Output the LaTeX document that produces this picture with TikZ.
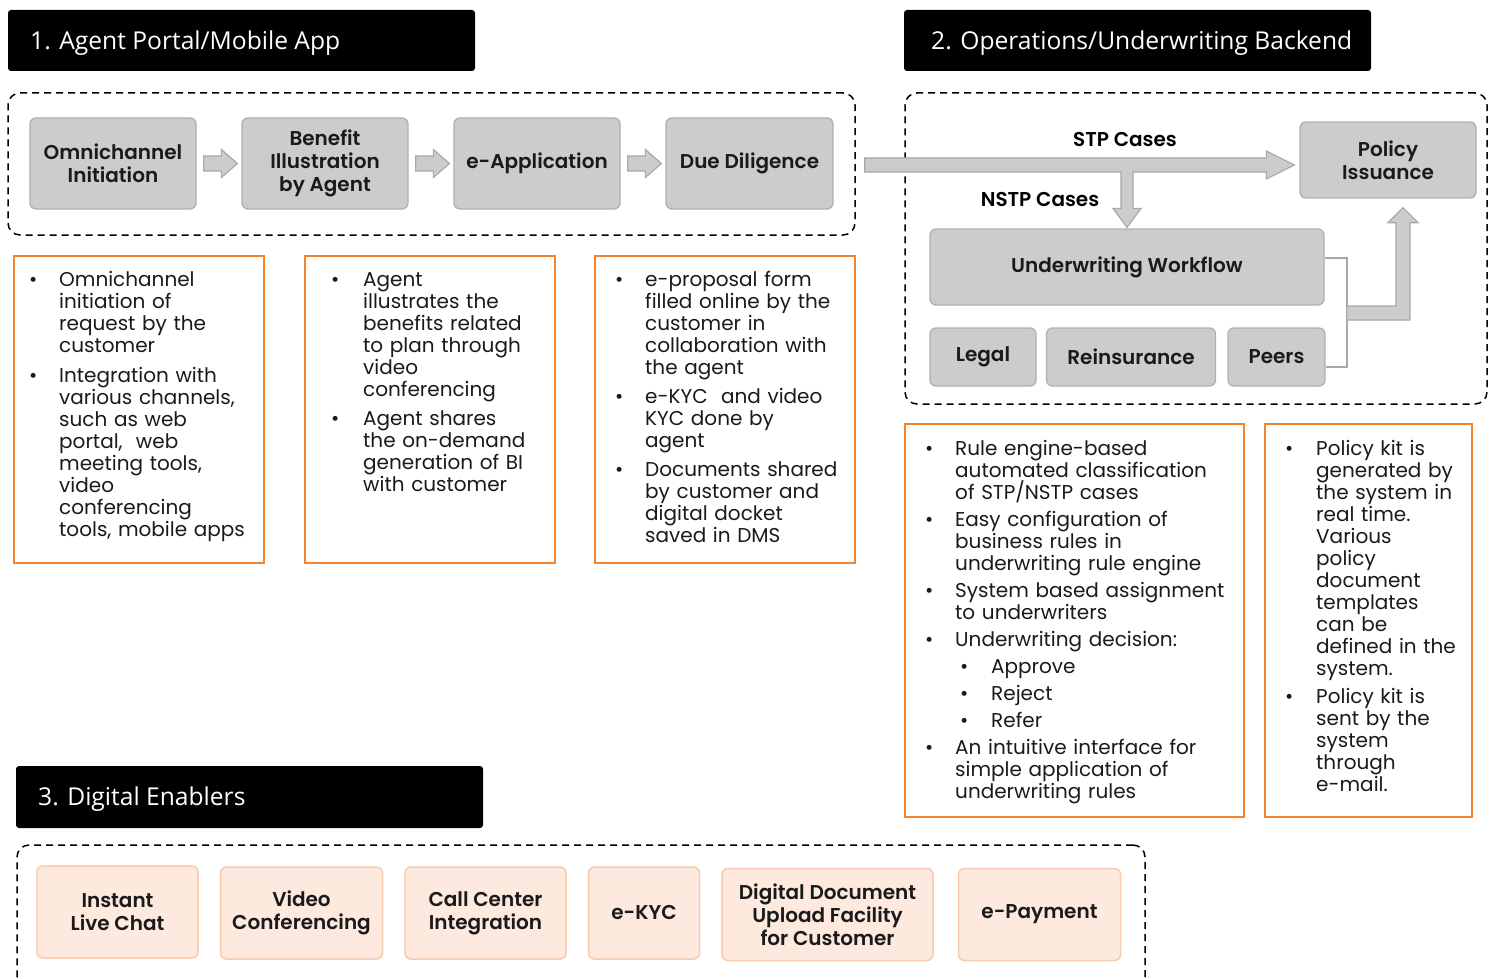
\documentclass[tikz,border=0pt]{standalone}
\usepackage{fontspec}
\setmainfont{Poppins}[BoldFont={Poppins SemiBold}]
\newfontfamily\headfont{Open Sans}
\usetikzlibrary{calc}
\definecolor{boxgray}{HTML}{CCCCCC}
\definecolor{boxborder}{HTML}{B0B0B0}
\definecolor{arrowborder}{HTML}{A8A8A8}
\definecolor{orangeb}{HTML}{F4832E}
\definecolor{peach}{HTML}{FDE9DD}
\definecolor{peachb}{HTML}{F7CBAC}
\definecolor{txt}{HTML}{1A1A1A}
\newenvironment{blist}[2]{\begin{list}{\textbullet}{%
  \setlength\leftmargin{#1}\setlength\labelwidth{#1}\setlength\labelsep{0pt}%
  \setlength\itemsep{#2}\setlength\parsep{0pt}\setlength\topsep{0pt}%
  \setlength\partopsep{0pt}\setlength\itemindent{0pt}\setlength\listparindent{0pt}%
  \renewcommand\makelabel[1]{##1\hfil}}}{\end{list}}
\newenvironment{slist}{\begin{list}{\textbullet}{%
  \setlength\leftmargin{36pt}\setlength\labelwidth{31pt}\setlength\labelsep{0pt}%
  \setlength\itemsep{5pt}\setlength\parsep{0pt}\setlength\topsep{5pt}%
  \setlength\partopsep{0pt}\setlength\itemindent{0pt}%
  \renewcommand\makelabel[1]{##1\hfil}}}{\end{list}}
\newcommand\harrow[2]{\draw[blk] let \p1=(#1.east), \p2=(#2.west) in
  (\x1+7pt,\y1+7.5pt) -- (\x2-20pt,\y1+7.5pt) -- (\x2-20pt,\y1+14pt) -- (\x2-4pt,\y1)
  -- (\x2-20pt,\y1-14pt) -- (\x2-20pt,\y1-7.5pt) -- (\x1+7pt,\y1-7.5pt) -- cycle;}
\begin{document}
\begin{tikzpicture}[x=1pt,y=-1pt,
  header/.style={fill=black, rounded corners=3pt, inner sep=0},
  headtext/.style={anchor=base west, inner sep=0, text=white, font=\headfont\fontsize{24.6}{28}\selectfont},
  dbox/.style={draw=black, line width=1.5pt, dash pattern=on 7pt off 5pt, rounded corners=12pt, inner sep=0},
  gbox/.style={draw=boxborder, fill=boxgray, line width=1.3pt, rounded corners=6pt, inner sep=0, align=center, text=txt, font=\bfseries\fontsize{20}{23}\selectfont},
  pbox/.style={draw=peachb, fill=peach, line width=1.5pt, rounded corners=6pt, inner sep=0, align=center, text=txt, font=\bfseries\fontsize{20}{23}\selectfont},
  obox/.style={draw=orangeb, line width=1.5pt, inner sep=0},
  btext/.style={anchor=north west, inner sep=0, text width=#1, text=txt, font=\fontsize{20}{22}\selectfont},
  blk/.style={draw=arrowborder, fill=boxgray, line width=1.2pt, line join=miter},
  brk/.style={draw=arrowborder, line width=2.2pt},
  lbl/.style={inner sep=0, text=black, font=\bfseries\fontsize{20}{23}\selectfont}]
\useasboundingbox (0,0) rectangle (1494,979);
\clip (0,0) rectangle (1494,979);
\fill[white] (0,0) rectangle (1494,979);

% headers
\node[header, minimum width=467pt, minimum height=61pt] (h1) at (241.5,40.5) {};
\node[headtext] (h1t) at (30,50) {1. Agent Portal/Mobile App};
\node[header, minimum width=467pt, minimum height=61pt] (h2) at (1137.5,40.5) {};
\node[headtext] (h2t) at (931,50) {2. Operations/Underwriting Backend};
\node[header, minimum width=467pt, minimum height=62pt] (h3) at (249.5,797) {};
\node[headtext] (h3t) at (38,805) {3. Digital Enablers};

% section 1
\node[dbox, minimum width=847pt, minimum height=142pt] (dash1) at (431.5,164) {};
\node[gbox, minimum width=166pt, minimum height=91pt] (omni) at (113,163.5) {Omnichannel\\Initiation};
\node[gbox, minimum width=166pt, minimum height=91pt] (bi) at (325,163.5) {Benefit\\Illustration\\by Agent};
\node[gbox, minimum width=166pt, minimum height=91pt] (eapp) at (537,163.5) {e-Application};
\node[gbox, minimum width=167pt, minimum height=91pt] (dd) at (749.5,163.5) {Due Diligence};
\harrow{omni}{bi}
\harrow{bi}{eapp}
\harrow{eapp}{dd}

\node[obox, minimum width=250pt, minimum height=307pt] (o1) at (139,409.5) {};
\node[obox, minimum width=250pt, minimum height=307pt] (o2) at (430,409.5) {};
\node[obox, minimum width=260pt, minimum height=307pt] (o3) at (725,409.5) {};

\node[btext=230pt] (t1) at (29,264.6) {\begin{blist}{30pt}{8pt}
\item Omnichannel\newline initiation of\newline request by the\newline customer
\item Integration with\newline various channels,\newline such as web\newline portal,\ \ web\newline meeting tools,\newline video\newline conferencing\newline tools, mobile apps
\end{blist}};
\node[btext=220pt] (t2) at (331,264.6) {\begin{blist}{32pt}{7pt}
\item Agent\newline illustrates the\newline benefits related\newline to plan through\newline video\newline conferencing
\item Agent shares\newline the on-demand\newline generation of BI\newline with customer
\end{blist}};
\node[btext=240pt] (t3) at (615,264.6) {\begin{blist}{30pt}{7pt}
\item e-proposal form\newline filled online by the\newline customer in\newline collaboration with\newline the agent
\item e-KYC\ \ and video\newline KYC done by\newline agent
\item Documents shared\newline by customer and\newline digital docket\newline saved in DMS
\end{blist}};

% section 2
\node[dbox, minimum width=582pt, minimum height=311pt] (dash2) at (1196,248.5) {};
\node[gbox, minimum width=176pt, minimum height=76pt] (policy) at (1388,160) {Policy\\Issuance};
\node[gbox, minimum width=394pt, minimum height=76pt] (work) at (1127,267) {Underwriting Workflow};
\node[gbox, minimum width=106pt, minimum height=58pt] (legal) at (983,357) {Legal};
\node[gbox, minimum width=169pt, minimum height=58pt] (reins) at (1131,357) {Reinsurance};
\node[gbox, minimum width=97pt, minimum height=58pt] (peers) at (1276.5,357) {Peers};

\coordinate (stpS) at ($(dash1.east)+(9,1)$);
\draw[blk] let \p1=(stpS), \p2=(policy.west), \p3=(work.north) in
  (\x1,\y1+7pt) -- (\x2-33pt,\y1+7pt) -- (\x2-33pt,\y1+14pt) -- (\x2-5pt,\y1)
  -- (\x2-33pt,\y1-14pt) -- (\x2-33pt,\y1-7pt) -- (\x3+6pt,\y1-7pt)
  -- (\x3+6pt,\y3+20pt) -- (\x3+14pt,\y3+20pt) -- (\x3,\y3+1pt) -- (\x3-14pt,\y3+20pt)
  -- (\x3-6pt,\y3+20pt) -- (\x3-6pt,\y1-7pt) -- (\x1,\y1-7pt) -- cycle;
\node[lbl] (stp) at (1125,140) {STP Cases};
\node[lbl] (nstp) at (1040,200) {NSTP Cases};

\draw[brk] ($(work.east)+(0,-9)$) -- ++(22,0) |- ($(peers.east)+(0,10)$);
\coordinate (ua) at ($(work.east)+(22,46)$);
\draw[blk] let \p1=(ua), \p2=(policy.south) in
  (\x1,\y1+7pt) -- (\x2+8pt,\y1+7pt) -- (\x2+8pt,\y2-24pt) -- (\x2,\y2-24pt)
  -- (\x2+15pt,\y2-9pt) -- (\x2+30pt,\y2-24pt) -- (\x2+22pt,\y2-24pt)
  -- (\x2+22pt,\y1-7pt) -- (\x1,\y1-7pt) -- cycle;

\node[obox, minimum width=339pt, minimum height=393pt] (o4) at (1074.5,620.5) {};
\node[obox, minimum width=207pt, minimum height=393pt] (o5) at (1368.5,620.5) {};
\node[btext=310pt] (t4) at (925,433.6) {\begin{blist}{30pt}{5pt}
\item Rule engine-based\newline automated classification\newline of STP/NSTP cases
\item Easy configuration of\newline business rules in\newline underwriting rule engine
\item System based assignment\newline to underwriters
\item Underwriting decision:
\begin{slist}
\item Approve
\item Reject
\item Refer
\end{slist}
\item An intuitive interface for\newline simple application of\newline underwriting rules
\end{blist}};
\node[btext=185pt] (t5) at (1285,433.6) {\begin{blist}{31pt}{6pt}
\item Policy kit is\newline generated by\newline the system in\newline real time.\newline Various\newline policy\newline document\newline templates\newline can be\newline defined in the\newline system.
\item Policy kit is\newline sent by the\newline system\newline through\newline e-mail.
\end{blist}};

% section 3
\node[dbox, minimum width=1128pt, minimum height=200pt] (dash3) at (581,945) {};
\node[pbox, minimum width=161pt, minimum height=92pt] (chat) at (117.5,912) {Instant\\Live Chat};
\node[pbox, minimum width=162pt, minimum height=92pt] (video) at (301.5,913) {Video\\Conferencing};
\node[pbox, minimum width=161pt, minimum height=92pt] (call) at (485.5,913) {Call Center\\Integration};
\node[pbox, minimum width=111pt, minimum height=92pt] (ekyc) at (644,913) {e-KYC};
\node[pbox, minimum width=211pt, minimum height=92pt] (ddoc) at (827.5,914.5) {Digital Document\\Upload Facility\\for Customer};
\node[pbox, minimum width=162pt, minimum height=92pt] (epay) at (1039.5,914.5) {e-Payment};
\end{tikzpicture}
\end{document}
